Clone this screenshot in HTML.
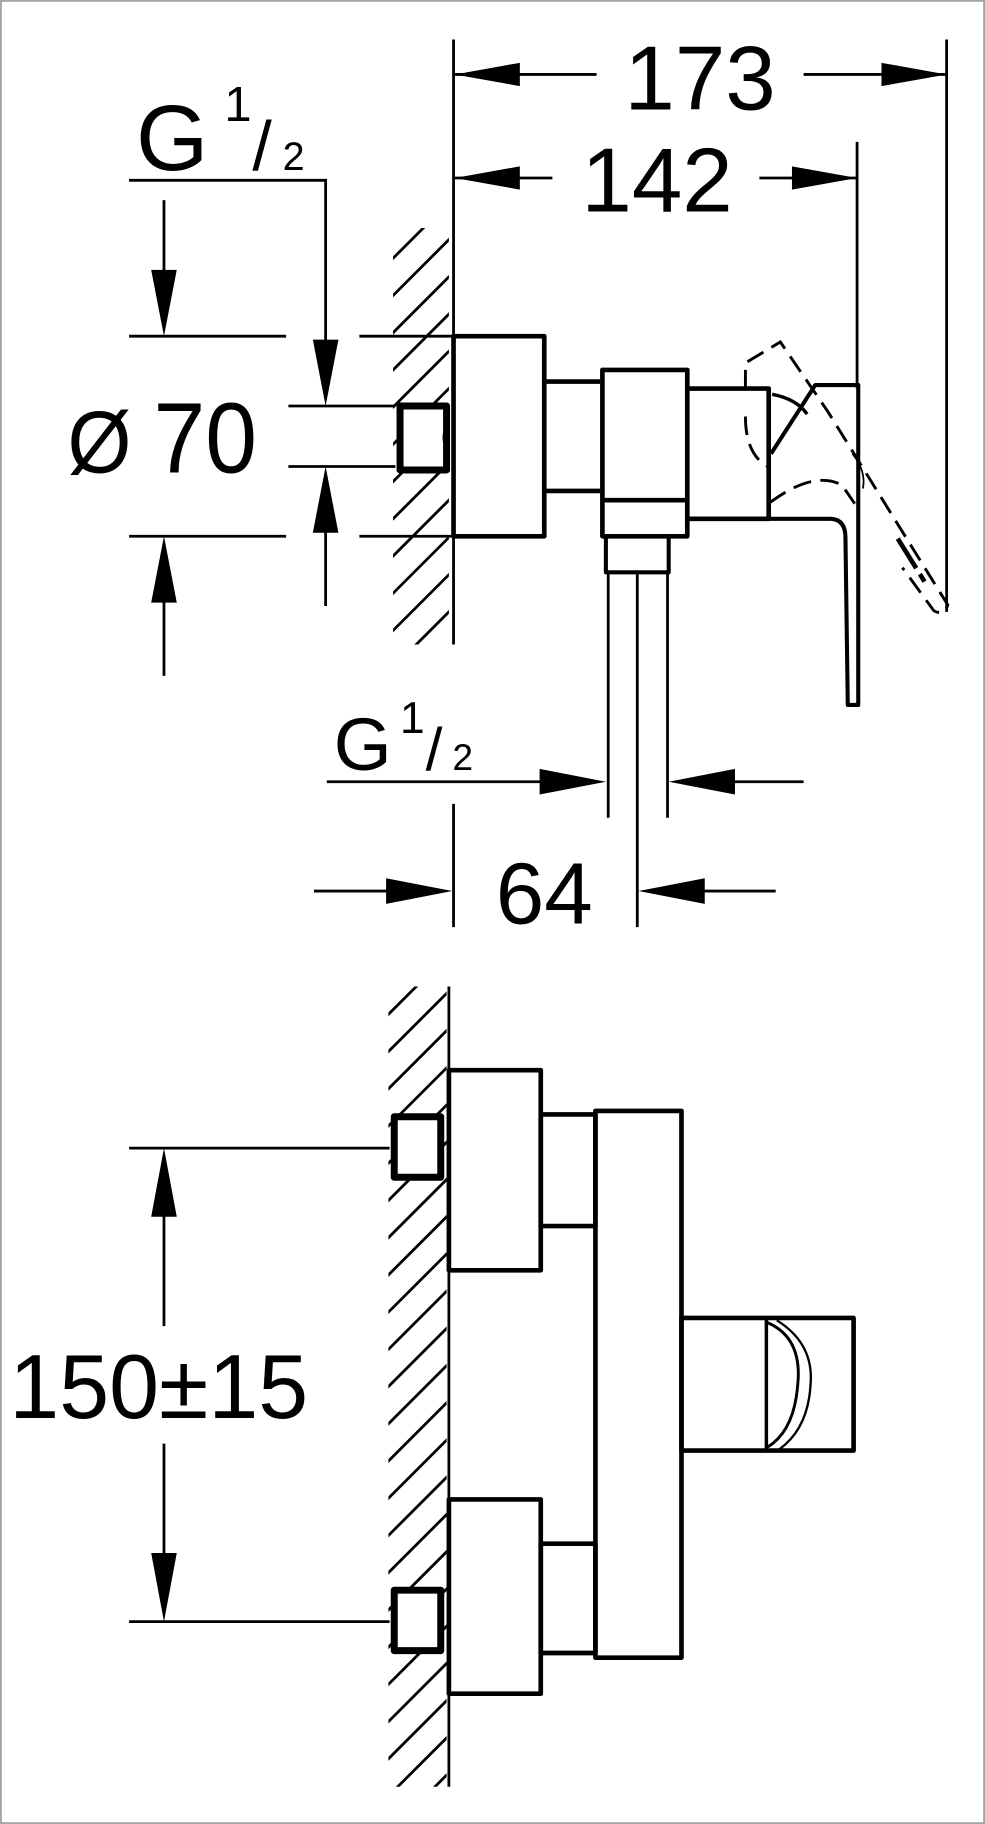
<!DOCTYPE html>
<html><head><meta charset="utf-8"><style>
html,body{margin:0;padding:0;background:#fff;}
svg{display:block;}
text{font-family:"Liberation Sans",Arial,sans-serif;fill:#000;}
</style></head><body>
<svg width="985" height="1824" viewBox="0 0 847 1568" preserveAspectRatio="none" xmlns="http://www.w3.org/2000/svg">
<defs>
<clipPath id="h1"><rect x="338" y="196" width="48" height="358"/></clipPath>
<clipPath id="h2"><rect x="334" y="848" width="50" height="688"/></clipPath>
</defs>
<rect x="0" y="0" width="847" height="1568" fill="#fff"/>
<rect x="0.8" y="0.8" width="845.4" height="1566.4" fill="none" stroke="#888" stroke-width="1.2"/>
<g stroke="#000" stroke-width="2.4" fill="none">
<g clip-path="url(#h1)">
<path d="M330,230 L390,170 M330,262 L390,202 M330,294 L390,234 M330,326 L390,266 M330,358 L390,298 M330,390 L390,330 M330,422 L390,362 M330,454 L390,394 M330,486 L390,426 M330,518 L390,458 M330,550 L390,490 M330,582 L390,522 M330,614 L390,554"/>
</g>
<g clip-path="url(#h2)">
<path d="M326,880 L390,816 M326,912 L390,848 M326,944 L390,880 M326,976 L390,912 M326,1008 L390,944 M326,1040 L390,976 M326,1072 L390,1008 M326,1104 L390,1040 M326,1136 L390,1072 M326,1168 L390,1104 M326,1200 L390,1136 M326,1232 L390,1168 M326,1264 L390,1200 M326,1296 L390,1232 M326,1328 L390,1264 M326,1360 L390,1296 M326,1392 L390,1328 M326,1424 L390,1360 M326,1456 L390,1392 M326,1488 L390,1424 M326,1520 L390,1456 M326,1552 L390,1488 M326,1584 L390,1520"/>
</g>
<line x1="390" y1="34" x2="390" y2="554"/>
<line x1="390" y1="691" x2="390" y2="797"/>
<line x1="386" y1="848" x2="386" y2="1536"/>
<line x1="814" y1="34" x2="814" y2="526"/>
<line x1="737" y1="122" x2="737" y2="334"/>
<line x1="391" y1="64" x2="513" y2="64"/><line x1="691" y1="64" x2="814" y2="64"/>
<line x1="391" y1="153" x2="475" y2="153"/><line x1="653" y1="153" x2="737" y2="153"/>
<polyline points="111,155 280,155 280,300"/>
<line x1="111" y1="289" x2="246" y2="289"/><line x1="309" y1="289" x2="389" y2="289"/>
<line x1="111" y1="461" x2="246" y2="461"/><line x1="309" y1="461" x2="389" y2="461"/>
<line x1="141" y1="172" x2="141" y2="240"/>
<line x1="141" y1="510" x2="141" y2="581"/>
<line x1="248" y1="349" x2="340" y2="349"/><line x1="248" y1="401" x2="340" y2="401"/>
<line x1="280" y1="450" x2="280" y2="521"/>
<line x1="523" y1="492" x2="523" y2="703"/>
<line x1="574" y1="492" x2="574" y2="703"/>
<line x1="548" y1="492" x2="548" y2="797"/>
<line x1="281" y1="672" x2="470" y2="672"/>
<line x1="625" y1="672" x2="691" y2="672"/>
<line x1="270" y1="766" x2="335" y2="766"/>
<line x1="600" y1="766" x2="667" y2="766"/>
<line x1="111" y1="987" x2="335" y2="987"/>
<line x1="111" y1="1394" x2="335" y2="1394"/>
<line x1="141" y1="1040" x2="141" y2="1140"/>
<line x1="141" y1="1241" x2="141" y2="1340"/>
</g>
<g fill="#000">
<polygon points="391,64 447,54 447,74"/>
<polygon points="814,64 758,54 758,74"/>
<polygon points="391,153 447,143 447,163"/>
<polygon points="737,153 681,143 681,163"/>
<polygon points="280,349 269,292 291,292"/>
<polygon points="141,289 130,232 152,232"/>
<polygon points="141,461 130,518 152,518"/>
<polygon points="280,401 269,458 291,458"/>
<polygon points="521,672 464,661 464,683"/>
<polygon points="575,672 632,661 632,683"/>
<polygon points="389,766 332,755 332,777"/>
<polygon points="549,766 606,755 606,777"/>
<polygon points="141,987 130,1046 152,1046"/>
<polygon points="141,1394 130,1335 152,1335"/>
</g>
<g stroke="#000" stroke-width="4" fill="none" stroke-linejoin="round">
<rect x="390" y="289" width="78" height="172"/>
<polyline points="468,328 516,328"/><polyline points="468,422 516,422"/>
<rect x="518" y="318" width="73" height="143"/>
<line x1="518" y1="430" x2="591" y2="430"/>
<rect x="521" y="461" width="54" height="31" stroke-width="3.5"/>
<polyline points="591,334 661,334 661,446 591,446"/>
<path d="M661,446 L715,446 Q727,447 727,462 L729,606 L738,606 L738,331 L701,331 L663,390" stroke-width="3.5"/>
<path d="M664,339 Q685,343 694,356" stroke-width="3"/>
<rect x="344" y="349" width="40" height="55" stroke-width="6" fill="#fff"/>
</g>
<path d="M385,365 Q378,376 385,388" stroke="#000" stroke-width="2" fill="none"/>
<g stroke="#000" stroke-width="2.5" fill="none" stroke-dasharray="16,8">
<path d="M641,358 Q641,392 662,402"/>
<path d="M641,334 L641,312 L671,294 L712,354 L815,520 Q812,530 803,525 L776,488"/>
<path d="M662,432 Q700,404 724,417 L735,433"/>
<path d="M772,463 L795,500" stroke-width="4" stroke-dasharray="30,6"/>
</g>
<path d="M733,390 Q745,405 742,420" stroke="#000" stroke-width="1.5" fill="none"/>
<g stroke="#000" stroke-width="4" fill="none" stroke-linejoin="round">
<rect x="386" y="920" width="79" height="172"/>
<rect x="465" y="958" width="47" height="96"/>
<rect x="512" y="955" width="74" height="470"/>
<rect x="386" y="1289" width="79" height="167"/>
<rect x="465" y="1327" width="47" height="94"/>
<rect x="586" y="1133" width="148" height="114"/>
<line x1="659" y1="1133" x2="659" y2="1247" stroke-width="3"/>
<path d="M660,1137 Q690,1150 686,1190 Q683,1230 660,1244" stroke-width="2.5"/>
<path d="M668,1135 Q700,1155 697,1190 Q695,1228 670,1246" stroke-width="2"/>
<rect x="339" y="960" width="40" height="52" stroke-width="6" fill="#fff"/>
<rect x="339" y="1367" width="40" height="52" stroke-width="6" fill="#fff"/>
</g>
<text x="602" y="94" font-size="78" text-anchor="middle">173</text>
<text x="565" y="182" font-size="78" text-anchor="middle">142</text>
<text x="117" y="146" font-size="80">G</text>
<text x="193" y="104" font-size="42">1</text>
<text x="217" y="146" font-size="60">/</text>
<text x="243" y="146" font-size="34">2</text>
<text x="58" y="406" font-size="76" textLength="55" lengthAdjust="spacingAndGlyphs">Ø</text>
<text x="132" y="406" font-size="86" textLength="89" lengthAdjust="spacingAndGlyphs">70</text>
<text x="287" y="662" font-size="64">G</text>
<text x="344" y="630" font-size="38">1</text>
<text x="366" y="662" font-size="52">/</text>
<text x="389" y="662" font-size="32">2</text>
<text x="468" y="794" font-size="75" text-anchor="middle">64</text>
<text x="8" y="1219" font-size="78" textLength="257" lengthAdjust="spacingAndGlyphs">150±15</text>
</svg>
</body></html>
